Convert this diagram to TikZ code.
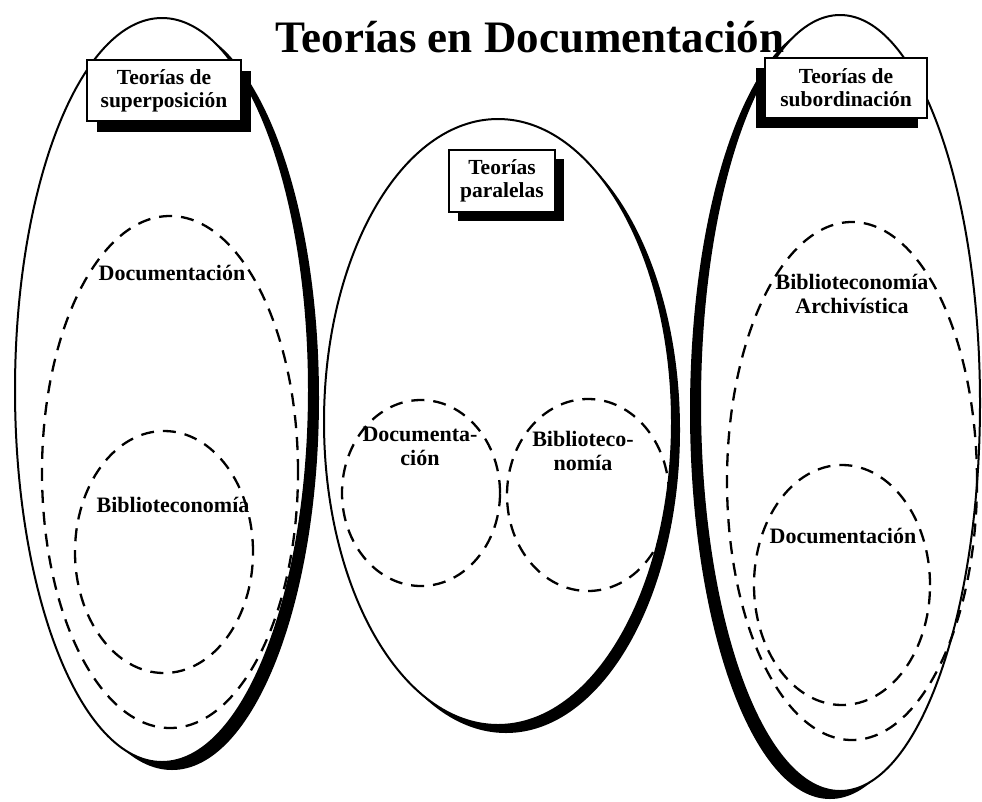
\documentclass[tikz,border=0pt]{standalone}
\usepackage{fontspec}
\setmainfont{Liberation Serif}
\usetikzlibrary{shapes.geometric,shadows}
\begin{document}
\begin{tikzpicture}[x=1pt,y=-1pt,
  bigell/.style={ellipse, draw=black, line width=2pt, fill=white, inner sep=0pt},
  dashell/.style={ellipse, draw=black, line width=2.3pt, dash pattern=on 13pt off 9pt, inner sep=0pt},
  labelbox/.style={rectangle, draw=black, line width=2pt, fill=white, inner sep=0pt, align=center,
    font=\fontsize{21.5}{23}\selectfont\bfseries},
  lbl/.style={inner sep=0pt, align=center, font=\fontsize{22}{24}\selectfont\bfseries}
]
\useasboundingbox[fill=white] (0,0) rectangle (982,801);

% big ellipses with shadows
\node[bigell, minimum width=294pt, minimum height=744pt,
  general shadow={fill=black, shadow xshift=10pt, shadow yshift=-8pt}] (leftell) at (162,390) {};
\node[bigell, minimum width=348pt, minimum height=606pt,
  general shadow={fill=black, shadow xshift=8pt, shadow yshift=-8pt}] (midell) at (498,422) {};
\node[bigell, minimum width=280pt, minimum height=776pt,
  general shadow={fill=black, shadow xshift=-10pt, shadow yshift=-8pt}] (rightell) at (840,403) {};

% dashed ellipses
\node[dashell, minimum width=256pt, minimum height=512pt] (ldoc) at (170,472) {};
\node[dashell, minimum width=178pt, minimum height=242pt] (lbib) at (164,552) {};
\node[dashell, minimum width=158pt, minimum height=186pt] (mdoc) at (421,493) {};
\node[dashell, minimum width=162pt, minimum height=192pt] (mbib) at (588,495) {};
\node[dashell, minimum width=250pt, minimum height=518pt] (rbib) at (852,481) {};
\node[dashell, minimum width=176pt, minimum height=240pt] (rdoc) at (842,585) {};

% label boxes
\node[labelbox, minimum width=154pt, minimum height=61pt,
  general shadow={fill=black, shadow xshift=10pt, shadow yshift=-11pt}] (lbox) at (164,90.5)
  {Teorías de\\superposición};
\node[labelbox, minimum width=106pt, minimum height=62pt,
  general shadow={fill=black, shadow xshift=9pt, shadow yshift=-9pt}] (mbox) at (502,181)
  {Teorías\\paralelas};
\node[labelbox, minimum width=162pt, minimum height=60pt,
  general shadow={fill=black, shadow xshift=-9pt, shadow yshift=-10pt}] (rbox) at (846,88)
  {Teorías de\\subordinación};

% texts
\node[lbl, anchor=base] (tldoc) at (172,280) {Documentación};
\node[lbl, anchor=base] (tlbib) at (173,512) {Biblioteconomía};
\node[lbl] (tmdoc) at (420,446.5) {Documenta-\\ción};
\node[lbl] (tmbib) at (583,450.5) {Biblioteco-\\nomía};
\node[lbl] (trbib) at (852,294) {Biblioteconomía\\Archivística};
\node[lbl, anchor=base] (trdoc) at (843,543) {Documentación};

% title
\node[inner sep=0pt, anchor=base, font=\fontsize{45}{52}\selectfont\bfseries] (title) at (530,52)
  {Teorías en Documentación};
\end{tikzpicture}
\end{document}
